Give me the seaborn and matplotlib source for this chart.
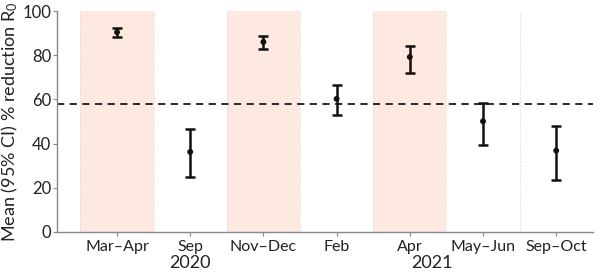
import matplotlib
matplotlib.use("Agg")
import matplotlib.pyplot as plt
import seaborn as sns
import numpy as np

# data
periods = ["Mar\u2013Apr", "Sep", "Nov\u2013Dec", "Feb", "Apr", "May\u2013Jun", "Sep\u2013Oct"]
means = [90.4, 36.2, 86.0, 60.2, 79.2, 50.1, 36.8]
ci_low = [88.4, 25.0, 82.8, 53.0, 71.9, 39.5, 23.5]
ci_high = [92.2, 46.6, 88.9, 66.5, 84.2, 58.5, 48.1]
shaded = [True, False, True, False, True, False, False]
threshold = 57.9
years = ["2020", "2021"]
year_pos = [1.0, 4.3]

sns.set_style("white")
plt.rcParams['font.family'] = ['Lato', 'DejaVu Sans']
plt.rcParams['mathtext.fontset'] = 'custom'
plt.rcParams['mathtext.rm'] = 'Lato'
plt.rcParams['mathtext.it'] = 'Lato:italic'

fig, ax = plt.subplots(figsize=(6, 2.76), dpi=100)
fig.subplots_adjust(left=0.095, right=0.988, top=0.96, bottom=0.16)

idx = np.arange(len(periods))
for i, s in zip(idx, shaded):
    if s:
        ax.axvspan(i - 0.5, i + 0.5, color="#fde9e0", lw=0, zorder=0)
for b in np.arange(-0.5, len(periods), 1.0):
    ax.axvline(b, color="#d8d8d8", lw=0.7, ls=(0, (1, 1.5)), zorder=0.5)

ax.axhline(threshold, color="#1a1a1a", lw=1.3, ls=(0, (4, 3)), zorder=1)

means_a = np.array(means)
yerr = [means_a - np.array(ci_low), np.array(ci_high) - means_a]
ax.errorbar(idx, means, yerr=yerr, fmt="none", ecolor="#111111",
            elinewidth=1.8, capsize=3.5, capthick=1.8, zorder=3)
sns.scatterplot(x=idx, y=means, ax=ax, color="#111111", s=18,
                edgecolor="none", zorder=4)

ax.set_xlim(-0.82, 6.5)
ax.set_ylim(0, 100)
ax.set_xticks(idx)
ax.set_xticklabels(periods, fontsize=11.5, color="#222222")
ax.set_yticks([0, 20, 40, 60, 80, 100])
ax.tick_params(axis="y", labelsize=12, colors="#222222", length=3, width=0.8,
               direction="out", left=True, pad=1)
ax.tick_params(axis="x", length=3, width=0.8, direction="out", bottom=True, pad=3)
ax.tick_params(axis="both", color="#888888")
ax.set_ylabel("Mean (95% CI) % reduction R$_0$", fontsize=13, color="#222222", labelpad=2)

for sp in ["top", "right"]:
    ax.spines[sp].set_visible(False)
for sp in ["left", "bottom"]:
    ax.spines[sp].set_color("#888888")
    ax.spines[sp].set_linewidth(1.0)

for y, xp in zip(years, year_pos):
    ax.text(xp, -0.14, y, transform=ax.get_xaxis_transform(), ha="center", va="center",
            fontsize=13, color="#222222")

fig.savefig("out.png", dpi=100)
